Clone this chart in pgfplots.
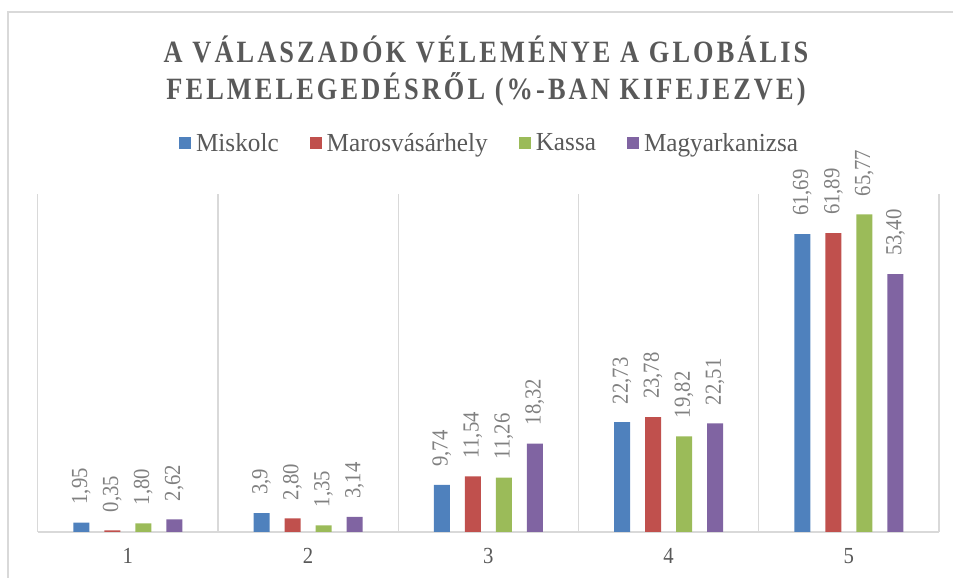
\documentclass[border=0pt]{standalone}
\usepackage{pgfplots}
\pgfplotsset{compat=1.18}
\usepackage{fontspec}
\setmainfont{Liberation Serif}[FakeStretch=0.9]
\newfontfamily\titlefont[LetterSpace=10, FakeStretch=0.85]{Liberation Serif}
\newfontfamily\legfont[FakeStretch=0.97]{Liberation Serif}

\definecolor{cblue}{HTML}{4F81BD}
\definecolor{cred}{HTML}{C0504D}
\definecolor{cgreen}{HTML}{9BBB59}
\definecolor{cpurple}{HTML}{8064A2}
\definecolor{txt}{HTML}{595959}
\definecolor{lbl}{HTML}{808080}
\definecolor{grd}{HTML}{D9D9D9}

\begin{document}
\begin{tikzpicture}
\useasboundingbox (0pt,0pt) rectangle (953pt,578pt);
% chart frame (left and top edges only)
\draw[grd, line width=1.5pt] (8pt,0pt) -- (8pt,566pt) -- (953pt,566pt);

\node[txt, align=center, font=\titlefont\bfseries\fontsize{31}{37}\selectfont]
  at (486pt,507pt) {A VÁLASZADÓK VÉLEMÉNYE A GLOBÁLIS\\FELMELEGEDÉSRŐL (\%-BAN KIFEJEZVE)};

\begin{axis}[
    at={(37.7pt,46pt)}, anchor=south west,
    scale only axis,
    width=901.3pt, height=338pt,
    ybar,
    bar width=0.089,
    xmin=0.5, xmax=5.5,
    ymin=0, ymax=70,
    axis y line=none,
    axis x line*=bottom,
    x axis line style={grd, line width=1.2pt, -},
    xtick={1,2,3,4,5},
    xticklabels={1,2,3,4,5},
    major tick length=0pt,
    minor xtick={0.5,1.5,2.5,3.5,4.5,5.5},
    minor tick length=0pt,
    xminorgrids=true,
    minor grid style={grd, line width=1.2pt},
    xticklabel style={txt, font=\fontsize{23}{26}\selectfont, yshift=-13pt},
    point meta=explicit symbolic,
    nodes near coords,
    every node near coord/.append style={rotate=90, anchor=west, lbl,
        font=\fontsize{23}{26}\selectfont, inner sep=5pt, xshift=13pt},
    legend columns=4,
    legend style={draw=none, fill=none, at={(0.503,1.151)}, anchor=center,
        font=\legfont\fontsize{26}{30}\selectfont, text=txt,
        nodes={inner xsep=5pt},
        /tikz/every even column/.append style={column sep=26pt}},
    legend image code/.code={\draw[#1, draw=none] (0pt,-6pt) rectangle (12pt,6pt);},
]
\addplot[fill=cblue, draw=none, bar shift=-0.258] coordinates {
    (1,1.95) [1,95] (2,3.90) [3,9] (3,9.74) [9,74] (4,22.73) [22,73] (5,61.69) [61,69]};
\addplot[fill=cred, draw=none, bar shift=-0.086] coordinates {
    (1,0.35) [0,35] (2,2.80) [2,80] (3,11.54) [11,54] (4,23.78) [23,78] (5,61.89) [61,89]};
\addplot[fill=cgreen, draw=none, bar shift=0.086] coordinates {
    (1,1.80) [1,80] (2,1.35) [1,35] (3,11.26) [11,26] (4,19.82) [19,82] (5,65.77) [65,77]};
\addplot[fill=cpurple, draw=none, bar shift=0.258] coordinates {
    (1,2.62) [2,62] (2,3.14) [3,14] (3,18.32) [18,32] (4,22.51) [22,51] (5,53.40) [53,40]};
\legend{Miskolc, Marosvásárhely, Kassa, Magyarkanizsa}
\end{axis}
\end{tikzpicture}
\end{document}
